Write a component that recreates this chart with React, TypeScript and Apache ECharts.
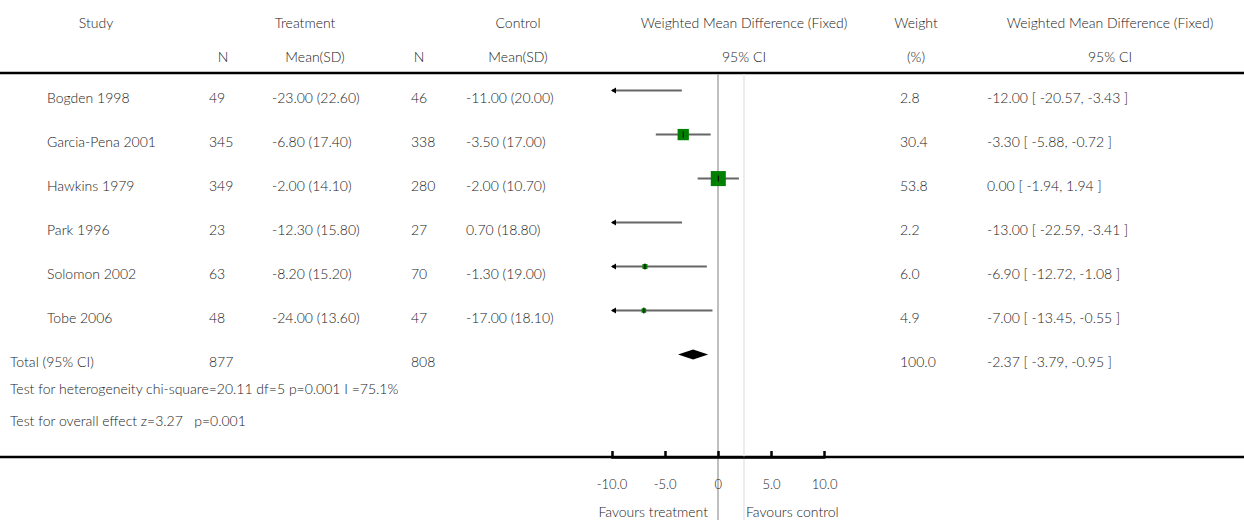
import { useEffect, useRef } from "react"
import * as echarts from "echarts"

const studies = ["Bogden 1998", "Garcia-Pena 2001", "Hawkins 1979", "Park 1996", "Solomon 2002", "Tobe 2006"]
const treatN = [49, 345, 349, 23, 63, 48]
const treatMean = ["-23.00 (22.60)", "-6.80 (17.40)", "-2.00 (14.10)", "-12.30 (15.80)", "-8.20 (15.20)", "-24.00 (13.60)"]
const controlN = [46, 338, 280, 27, 70, 47]
const controlMean = ["-11.00 (20.00)", "-3.50 (17.00)", "-2.00 (10.70)", "0.70 (18.80)", "-1.30 (19.00)", "-17.00 (18.10)"]
const wmd = [-12.0, -3.3, 0.0, -13.0, -6.9, -7.0]
const ciLow = [-20.57, -5.88, -1.94, -22.59, -12.72, -13.45]
const ciHigh = [-3.43, -0.72, 1.94, -3.41, -1.08, -0.55]
const weights = [2.8, 30.4, 53.8, 2.2, 6.0, 4.9]
const total = { treatN: 877, controlN: 808, wmd: -2.37, low: -3.79, high: -0.95, weight: 100.0 }
const xTicks = [-10, -5, 0, 5, 10]
const footer = [
  "Test for heterogeneity chi-square=20.11 df=5 p=0.001 I =75.1%",
  "Test for overall effect z=3.27   p=0.001",
]

const FONT = "Lato"
const TXT = "#222"
const X_MIN = -10
const X_MAX = 10

const fmt = (v: number) => v.toFixed(2)
const ciText = (m: number, l: number, h: number) => `${fmt(m)} [ ${fmt(l)}, ${fmt(h)} ]`

function txt(x: number, y: number, text: string, align: "left" | "center" | "right" = "left") {
  return {
    type: "text",
    x,
    y,
    style: { text, fill: TXT, font: `300 14px ${FONT}`, align, verticalAlign: "middle" },
  }
}

export default function App() {
  const ref = useRef<HTMLDivElement>(null)

  useEffect(() => {
    if (!ref.current) return
    const chart = echarts.init(ref.current, null, { renderer: "svg" })

    const rowY = (i: number) => 97 + i * 44
    const graphics: any[] = [
      txt(96, 22, "Study", "center"),
      txt(305, 22, "Treatment", "center"),
      txt(518, 22, "Control", "center"),
      txt(744, 22, "Weighted Mean Difference (Fixed)", "center"),
      txt(916, 22, "Weight", "center"),
      txt(1110, 22, "Weighted Mean Difference (Fixed)", "center"),
      txt(223, 56, "N", "center"),
      txt(315, 56, "Mean(SD)", "center"),
      txt(419, 56, "N", "center"),
      txt(518, 56, "Mean(SD)", "center"),
      txt(744, 56, "95% CI", "center"),
      txt(916, 56, "(%)", "center"),
      txt(1110, 56, "95% CI", "center"),
      { type: "line", shape: { x1: 0, y1: 73, x2: 1244, y2: 73 }, style: { stroke: "#000", lineWidth: 2.5 } },
      { type: "line", shape: { x1: 0, y1: 457, x2: 1244, y2: 457 }, style: { stroke: "#000", lineWidth: 2.5 } },
      { type: "line", shape: { x1: 718, y1: 74, x2: 718, y2: 520 }, style: { stroke: "#aaa", lineWidth: 1.5 } },
      { type: "line", shape: { x1: 744, y1: 74, x2: 744, y2: 520 }, style: { stroke: "#e6e6e6", lineWidth: 1.5 } },
      txt(708, 511, "Favours treatment", "right"),
      txt(746, 511, "Favours control", "left"),
    ]
    studies.forEach((s, i) => {
      const y = rowY(i)
      graphics.push(
        txt(47, y, s),
        txt(209, y, String(treatN[i])),
        txt(272, y, treatMean[i]),
        txt(411, y, String(controlN[i])),
        txt(466, y, controlMean[i]),
        txt(900, y, weights[i].toFixed(1)),
        txt(987, y, ciText(wmd[i], ciLow[i], ciHigh[i])),
      )
    })
    const ty = rowY(6)
    graphics.push(
      txt(10, ty, "Total (95% CI)"),
      txt(209, ty, String(total.treatN)),
      txt(411, ty, String(total.controlN)),
      txt(900, ty, total.weight.toFixed(1)),
      txt(987, ty, ciText(total.wmd, total.low, total.high)),
      txt(10, 388, footer[0]),
      txt(10, 420, footer[1]),
    )

    const rows = studies.map((_, i) => [i, wmd[i], ciLow[i], ciHigh[i], weights[i]])

    chart.setOption({
      animation: false,
      grid: { left: 612, width: 212.6, top: 73, bottom: 63 },
      xAxis: {
        type: "value",
        position: "bottom",
        min: X_MIN,
        max: X_MAX,
        interval: 5,
        z: 20,
        axisLine: { show: true, onZero: false, lineStyle: { color: "#000", width: 2.5 } },
        splitLine: { show: false },
        axisTick: { show: true, inside: true, length: 6, customValues: xTicks, lineStyle: { color: "#000", width: 2.5 } },
        axisLabel: {
          margin: 20,
          color: TXT,
          fontFamily: FONT,
          fontWeight: 300,
          fontSize: 13,
          customValues: xTicks,
          formatter: (v: number) => (v === 0 ? "0" : v.toFixed(1)),
        },
      },
      yAxis: { type: "value", min: -0.4, max: 8.33, inverse: true, show: false },
      graphic: graphics,
      series: [
        {
          type: "custom",
          clip: false,
          data: rows,
          renderItem: (params: any, api: any) => {
            const i = api.value(0)
            const m = api.value(1)
            const lo = api.value(2)
            const hi = api.value(3)
            const w = api.value(4)
            const y = api.coord([0, i])[1]
            const xl = api.coord([Math.max(lo, X_MIN), i])[0]
            const xh = api.coord([Math.min(hi, X_MAX), i])[0]
            const children: any[] = [
              { type: "line", shape: { x1: xl, y1: y, x2: xh, y2: y }, style: { stroke: "#666", lineWidth: 2 } },
            ]
            if (lo < X_MIN) {
              children.push({
                type: "polygon",
                shape: { points: [[xl - 1, y], [xl + 4, y - 3], [xl + 4, y + 3]] },
                style: { fill: "#000" },
              })
            }
            if (m >= X_MIN && m <= X_MAX) {
              const xm = api.coord([m, i])[0]
              const s = 2.05 * Math.sqrt(w)
              children.push(
                { type: "rect", shape: { x: xm - s / 2, y: y - s / 2, width: s, height: s }, style: { fill: "#008000" } },
                { type: "line", shape: { x1: xm, y1: y - 3, x2: xm, y2: y + 3 }, style: { stroke: "#000", lineWidth: 1 } },
              )
            }
            return { type: "group", children }
          },
        },
        {
          type: "custom",
          clip: false,
          data: [[6, total.wmd, total.low, total.high]],
          renderItem: (params: any, api: any) => {
            const i = api.value(0)
            const y = api.coord([0, i])[1]
            const xm = api.coord([api.value(1), i])[0]
            const xl = api.coord([api.value(2), i])[0]
            const xh = api.coord([api.value(3), i])[0]
            return {
              type: "polygon",
              shape: { points: [[xl, y], [xm, y - 5], [xh, y], [xm, y + 5]] },
              style: { fill: "#000" },
            }
          },
        },
      ],
    })

    return () => chart.dispose()
  }, [])

  return <div ref={ref} style={{ position: "absolute", left: 0, top: 0, width: 1244, height: 520 }} />
}
